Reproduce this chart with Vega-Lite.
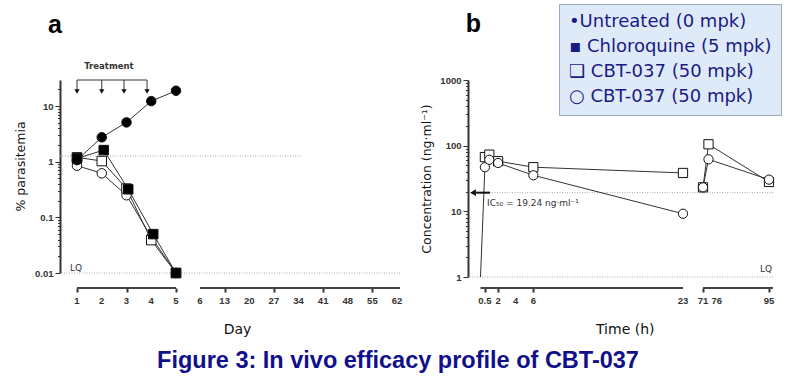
{
  "$schema": "https://vega.github.io/schema/vega-lite/v6.json",
  "background": "white",
  "padding": {"left": 14, "top": 3, "right": 5, "bottom": 5},
  "config": {
    "view": {"stroke": null},
    "axis": {"grid": false, "labelFont": "Liberation Sans", "labelFontWeight": "bold", "labelFontSize": 9.5, "labelColor": "#333", "labelOverlap": false, "titleFont": "DejaVu Sans", "titleFontWeight": "normal", "titleColor": "#111", "tickColor": "#333", "domainColor": "#333"}
  },
  "title": {"text": "Figure 3: In vivo efficacy profile of CBT-037", "orient": "bottom", "anchor": "middle", "font": "Liberation Sans", "fontSize": 23.5, "fontWeight": "bold", "color": "#10108a", "offset": 13},
  "bounds": "flush",
  "spacing": 68,
  "resolve": {"scale": {"shape": "independent", "fill": "independent"}},
  "hconcat": [
    {
      "width": 340,
      "height": 193,
      "layer": [
        {
          "data": {"values": [{}]},
          "mark": {"type": "rule", "color": "#aaa", "strokeDash": [1, 1.5], "strokeWidth": 1},
          "encoding": {"y": {"datum": 0.01, "type": "quantitative", "scale": {"type": "log", "domain": [0.01, 29.5], "nice": false}}}
        },
        {
          "data": {"values": [{}]},
          "mark": {"type": "rule", "color": "#aaa", "strokeDash": [1, 1.5], "strokeWidth": 1},
          "encoding": {
            "x": {"datum": 0.313, "type": "quantitative", "scale": {"type": "linear", "domain": [1, 5, 6, 62], "range": [17, 116, 140, 337], "zero": false, "nice": false}},
            "x2": {"datum": 34.7},
            "y": {"datum": 1.27, "type": "quantitative", "scale": {"type": "log", "domain": [0.01, 29.5], "nice": false}}
          }
        },
        {
          "data": {"values": [{"from": 1, "to": 5}, {"from": 6, "to": 62.85}]},
          "mark": {"type": "rule", "color": "#444", "strokeWidth": 2, "clip": false},
          "encoding": {
            "x": {"field": "from", "type": "quantitative", "scale": {"type": "linear", "domain": [1, 5, 6, 62], "range": [17, 116, 140, 337], "zero": false, "nice": false}},
            "x2": {"field": "to"},
            "y": {"datum": 0.00537, "type": "quantitative", "scale": {"type": "log", "domain": [0.01, 29.5], "nice": false}}
          }
        },
        {
          "data": {"values": [{"tick": 1}, {"tick": 2}, {"tick": 3}, {"tick": 4}, {"tick": 5}, {"tick": 6}, {"tick": 13}, {"tick": 20}, {"tick": 27}, {"tick": 34}, {"tick": 41}, {"tick": 48}, {"tick": 55}, {"tick": 62}]},
          "mark": {"type": "text", "font": "Liberation Sans", "fontWeight": "bold", "fontSize": 9.5, "color": "#333", "baseline": "middle", "align": "center", "clip": false},
          "encoding": {
            "x": {"field": "tick", "type": "quantitative", "scale": {"type": "linear", "domain": [1, 5, 6, 62], "range": [17, 116, 140, 337], "zero": false, "nice": false}},
            "y": {"datum": 0.00314, "type": "quantitative", "scale": {"type": "log", "domain": [0.01, 29.5], "nice": false}},
            "text": {"field": "tick", "type": "quantitative", "format": "d"}
          }
        },
        {
          "data": {"name": "para", "values": [
            {"group": "○ CBT-037 (50 mpk)", "day": 1, "pct": 0.85},
            {"group": "○ CBT-037 (50 mpk)", "day": 2, "pct": 0.62},
            {"group": "○ CBT-037 (50 mpk)", "day": 3, "pct": 0.25},
            {"group": "○ CBT-037 (50 mpk)", "day": 4, "pct": 0.044},
            {"group": "○ CBT-037 (50 mpk)", "day": 5, "pct": 0.01},
            {"group": "❑ CBT-037 (50 mpk)", "day": 1, "pct": 1.2},
            {"group": "❑ CBT-037 (50 mpk)", "day": 2, "pct": 1.03},
            {"group": "❑ CBT-037 (50 mpk)", "day": 3, "pct": 0.33},
            {"group": "❑ CBT-037 (50 mpk)", "day": 4, "pct": 0.039},
            {"group": "❑ CBT-037 (50 mpk)", "day": 5, "pct": 0.01},
            {"group": "▪ Chloroquine (5 mpk)", "day": 1, "pct": 1.15},
            {"group": "▪ Chloroquine (5 mpk)", "day": 2.08, "pct": 1.62},
            {"group": "▪ Chloroquine (5 mpk)", "day": 3.07, "pct": 0.32},
            {"group": "▪ Chloroquine (5 mpk)", "day": 4.08, "pct": 0.05},
            {"group": "▪ Chloroquine (5 mpk)", "day": 5, "pct": 0.01},
            {"group": "•Untreated (0 mpk)", "day": 1, "pct": 1.07},
            {"group": "•Untreated (0 mpk)", "day": 2, "pct": 2.75},
            {"group": "•Untreated (0 mpk)", "day": 3, "pct": 5.1},
            {"group": "•Untreated (0 mpk)", "day": 4, "pct": 12.3},
            {"group": "•Untreated (0 mpk)", "day": 5, "pct": 18.9}
          ]},
          "layer": [
            {
              "mark": {"type": "line", "color": "#333", "strokeWidth": 1},
              "encoding": {
                "x": {"field": "day", "type": "quantitative", "scale": {"type": "linear", "domain": [1, 5, 6, 62], "range": [17, 116, 140, 337], "zero": false, "nice": false},
                  "axis": {"title": "Day", "values": [1, 2, 3, 4, 5, 6, 13, 20, 27, 34, 41, 48, 55, 62], "labels": false, "domain": false, "offset": 15, "tickSize": 4, "tickWidth": 2, "titleFontSize": 14, "titlePadding": 29}},
                "y": {"field": "pct", "type": "quantitative", "scale": {"type": "log", "domain": [0.01, 29.5], "nice": false},
                  "axis": {"title": "% parasitemia", "values": [0.01, 0.02, 0.03, 0.04, 0.05, 0.06, 0.07, 0.08, 0.09, 0.1, 0.2, 0.3, 0.4, 0.5, 0.6, 0.7, 0.8, 0.9, 1, 2, 3, 4, 5, 6, 7, 8, 9, 10, 20],
                    "labelExpr": "abs(log(datum.value)/LN10 - round(log(datum.value)/LN10)) < 0.001 ? '' + datum.value : ''",
                    "labelOverlap": false,
                    "tickSize": {"condition": {"test": "abs(log(datum.value)/LN10 - round(log(datum.value)/LN10)) < 0.001", "value": 5}, "value": 2.5},
                    "domainWidth": 2, "tickWidth": 1, "labelPadding": 2, "titleFontSize": 12.5, "titlePadding": 7, "titleY": 86}},
                "detail": {"field": "group"}
              }
            },
            {
              "mark": {"type": "point", "filled": false, "stroke": "#111", "strokeWidth": 1, "size": 90, "opacity": 1},
              "encoding": {
                "x": {"field": "day", "type": "quantitative", "scale": {"type": "linear", "domain": [1, 5, 6, 62], "range": [17, 116, 140, 337], "zero": false, "nice": false}},
                "y": {"field": "pct", "type": "quantitative", "scale": {"type": "log", "domain": [0.01, 29.5], "nice": false}},
                "shape": {"field": "group", "type": "nominal",
                  "scale": {"domain": ["•Untreated (0 mpk)", "▪ Chloroquine (5 mpk)", "❑ CBT-037 (50 mpk)", "○ CBT-037 (50 mpk)"], "range": ["circle", "square", "square", "circle"]},
                  "legend": {"orient": "none", "legendX": 499, "legendY": -76, "title": null, "fillColor": "#dfeaf8", "strokeColor": "#9aa8c0", "padding": 9,
                    "labelFont": "DejaVu Sans", "labelFontSize": 18, "labelColor": "#1a1a85", "labelLimit": 400, "symbolSize": 0, "symbolOpacity": 0, "symbolStrokeWidth": 0, "labelOffset": -17, "rowPadding": 7,
                    "encode": {"symbols": {"update": {"size": {"value": 0}, "opacity": {"value": 0}}}}}},
                "fill": {"field": "group", "type": "nominal",
                  "scale": {"domain": ["•Untreated (0 mpk)", "▪ Chloroquine (5 mpk)", "❑ CBT-037 (50 mpk)", "○ CBT-037 (50 mpk)"], "range": ["#000", "#000", "#fff", "#fff"]},
                  "legend": null}
              }
            }
          ]
        },
        {
          "data": {"values": [{}]},
          "mark": {"type": "rule", "color": "#333", "strokeWidth": 1, "clip": false},
          "encoding": {
            "x": {"datum": 1, "type": "quantitative", "scale": {"type": "linear", "domain": [1, 5, 6, 62], "range": [17, 116, 140, 337], "zero": false, "nice": false}},
            "x2": {"datum": 3.83},
            "y": {"datum": 29.5, "type": "quantitative", "scale": {"type": "log", "domain": [0.01, 29.5], "nice": false}}
          }
        },
        {
          "data": {"values": [{"dose": 1}, {"dose": 2}, {"dose": 2.9}, {"dose": 3.83}]},
          "layer": [
            {
              "mark": {"type": "rule", "color": "#333", "strokeWidth": 1, "clip": false},
              "encoding": {
                "x": {"field": "dose", "type": "quantitative", "scale": {"type": "linear", "domain": [1, 5, 6, 62], "range": [17, 116, 140, 337], "zero": false, "nice": false}},
                "y": {"datum": 29.5, "type": "quantitative", "scale": {"type": "log", "domain": [0.01, 29.5], "nice": false}},
                "y2": {"datum": 19.5}
              }
            },
            {
              "mark": {"type": "point", "shape": "triangle-down", "filled": true, "color": "#111", "size": 28, "opacity": 1, "clip": false},
              "encoding": {
                "x": {"field": "dose", "type": "quantitative", "scale": {"type": "linear", "domain": [1, 5, 6, 62], "range": [17, 116, 140, 337], "zero": false, "nice": false}},
                "y": {"datum": 18.3, "type": "quantitative", "scale": {"type": "log", "domain": [0.01, 29.5], "nice": false}}
              }
            }
          ]
        },
        {
          "data": {"values": [{}]},
          "mark": {"type": "text", "text": "Treatment", "font": "DejaVu Sans", "fontWeight": "bold", "fontSize": 8.5, "color": "#333", "baseline": "middle", "align": "center", "clip": false},
          "encoding": {
            "x": {"datum": 2.29, "type": "quantitative", "scale": {"type": "linear", "domain": [1, 5, 6, 62], "range": [17, 116, 140, 337], "zero": false, "nice": false}},
            "y": {"datum": 52.6, "type": "quantitative", "scale": {"type": "log", "domain": [0.01, 29.5], "nice": false}}
          }
        },
        {
          "data": {"values": [{}]},
          "mark": {"type": "text", "text": "LQ", "font": "DejaVu Sans", "fontSize": 9, "color": "#333", "baseline": "middle", "align": "left", "clip": false},
          "encoding": {
            "x": {"datum": 0.72, "type": "quantitative", "scale": {"type": "linear", "domain": [1, 5, 6, 62], "range": [17, 116, 140, 337], "zero": false, "nice": false}},
            "y": {"datum": 0.0123, "type": "quantitative", "scale": {"type": "log", "domain": [0.01, 29.5], "nice": false}}
          }
        },
        {
          "data": {"values": [{}]},
          "mark": {"type": "text", "text": "a", "font": "Liberation Sans", "fontWeight": "bold", "fontSize": 25, "color": "#000", "baseline": "middle", "align": "center", "clip": false},
          "encoding": {
            "x": {"datum": 0.11, "type": "quantitative", "scale": {"type": "linear", "domain": [1, 5, 6, 62], "range": [17, 116, 140, 337], "zero": false, "nice": false}},
            "y": {"datum": 288, "type": "quantitative", "scale": {"type": "log", "domain": [0.01, 29.5], "nice": false}}
          }
        }
      ]
    },
    {
      "width": 305,
      "height": 197,
      "layer": [
        {
          "data": {"values": [{"level": 1}, {"level": 19.24}]},
          "mark": {"type": "rule", "color": "#aaa", "strokeDash": [1, 1.5], "strokeWidth": 1},
          "encoding": {"y": {"field": "level", "type": "quantitative", "scale": {"type": "log", "domain": [1, 1000], "nice": false}}}
        },
        {
          "data": {"values": [{"from": 0, "to": 23}, {"from": 71, "to": 96.45}]},
          "mark": {"type": "rule", "color": "#444", "strokeWidth": 2, "clip": false},
          "encoding": {
            "x": {"field": "from", "type": "quantitative", "scale": {"type": "linear", "domain": [0, 23, 71, 95], "range": [12.5, 215, 235, 301], "zero": false, "nice": false}},
            "x2": {"field": "to"},
            "y": {"datum": 0.68, "type": "quantitative", "scale": {"type": "log", "domain": [1, 1000], "nice": false}}
          }
        },
        {
          "data": {"values": [{"tick": 0.5, "label": "0.5"}, {"tick": 2, "label": "2"}, {"tick": 4, "label": "4"}, {"tick": 6, "label": "6"}, {"tick": 23, "label": "23"}, {"tick": 71, "label": "71"}, {"tick": 76, "label": "76"}, {"tick": 95, "label": "95"}]},
          "mark": {"type": "text", "font": "Liberation Sans", "fontWeight": "bold", "fontSize": 9.5, "color": "#333", "baseline": "middle", "align": "center", "clip": false},
          "encoding": {
            "x": {"field": "tick", "type": "quantitative", "scale": {"type": "linear", "domain": [0, 23, 71, 95], "range": [12.5, 215, 235, 301], "zero": false, "nice": false}},
            "y": {"datum": 0.431, "type": "quantitative", "scale": {"type": "log", "domain": [1, 1000], "nice": false}},
            "text": {"field": "label", "type": "nominal"}
          }
        },
        {
          "data": {"values": [
            {"series": "square", "seg": 1, "t": 0.5, "conc": 67},
            {"series": "square", "seg": 1, "t": 1, "conc": 73},
            {"series": "square", "seg": 1, "t": 2, "conc": 58},
            {"series": "square", "seg": 1, "t": 6, "conc": 47},
            {"series": "square", "seg": 1, "t": 23, "conc": 38.4},
            {"series": "square", "seg": 2, "t": 71, "conc": 23.2},
            {"series": "square", "seg": 2, "t": 73, "conc": 105},
            {"series": "square", "seg": 2, "t": 95, "conc": 28},
            {"series": "circle", "seg": 1, "t": 0, "conc": 1},
            {"series": "circle", "seg": 1, "t": 0.5, "conc": 47},
            {"series": "circle", "seg": 1, "t": 1, "conc": 61},
            {"series": "circle", "seg": 1, "t": 2, "conc": 54.5},
            {"series": "circle", "seg": 1, "t": 6, "conc": 35.4},
            {"series": "circle", "seg": 1, "t": 23, "conc": 9.2},
            {"series": "circle", "seg": 2, "t": 71, "conc": 23.2},
            {"series": "circle", "seg": 2, "t": 73, "conc": 62},
            {"series": "circle", "seg": 2, "t": 95, "conc": 30.4}
          ]},
          "layer": [
            {
              "mark": {"type": "line", "color": "#333", "strokeWidth": 1},
              "encoding": {
                "x": {"field": "t", "type": "quantitative", "scale": {"type": "linear", "domain": [0, 23, 71, 95], "range": [12.5, 215, 235, 301], "zero": false, "nice": false},
                  "axis": {"title": "Time (h)", "values": [0.5, 1, 2, 4, 6, 23, 71, 76, 95], "labels": false, "domain": false, "offset": 11, "tickSize": 4, "tickWidth": 2, "titleFontSize": 14, "titlePadding": 29}},
                "y": {"field": "conc", "type": "quantitative", "scale": {"type": "log", "domain": [1, 1000], "nice": false},
                  "axis": {"title": "Concentration (ng·ml⁻¹)", "values": [1, 2, 3, 4, 5, 6, 7, 8, 9, 10, 20, 30, 40, 50, 60, 70, 80, 90, 100, 200, 300, 400, 500, 600, 700, 800, 900, 1000],
                    "labelExpr": "abs(log(datum.value)/LN10 - round(log(datum.value)/LN10)) < 0.001 ? '' + datum.value : ''",
                    "labelOverlap": false,
                    "tickSize": {"condition": {"test": "abs(log(datum.value)/LN10 - round(log(datum.value)/LN10)) < 0.001", "value": 5}, "value": 2.5},
                    "domainWidth": 2, "tickWidth": 1, "labelPadding": 2, "titleFontSize": 12.5, "titlePadding": 6}},
                "detail": [{"field": "series"}, {"field": "seg"}]
              }
            },
            {
              "transform": [{"filter": "datum.t > 0"}],
              "mark": {"type": "point", "filled": true, "fill": "#fff", "stroke": "#111", "strokeWidth": 1, "size": 85, "opacity": 1},
              "encoding": {
                "x": {"field": "t", "type": "quantitative", "scale": {"type": "linear", "domain": [0, 23, 71, 95], "range": [12.5, 215, 235, 301], "zero": false, "nice": false}},
                "y": {"field": "conc", "type": "quantitative", "scale": {"type": "log", "domain": [1, 1000], "nice": false}},
                "shape": {"field": "series", "type": "nominal", "scale": {"domain": ["square", "circle"], "range": ["square", "circle"]}, "legend": null}
              }
            }
          ]
        },
        {
          "data": {"values": [{}]},
          "mark": {"type": "rule", "color": "#111", "strokeWidth": 2, "clip": false},
          "encoding": {
            "x": {"datum": -0.5, "type": "quantitative", "scale": {"type": "linear", "domain": [0, 23, 71, 95], "range": [12.5, 215, 235, 301], "zero": false, "nice": false}},
            "x2": {"datum": 1.08},
            "y": {"datum": 19.24, "type": "quantitative", "scale": {"type": "log", "domain": [1, 1000], "nice": false}}
          }
        },
        {
          "data": {"values": [{}]},
          "mark": {"type": "point", "shape": "triangle-left", "filled": true, "color": "#111", "size": 45, "opacity": 1, "clip": false},
          "encoding": {
            "x": {"datum": -0.85, "type": "quantitative", "scale": {"type": "linear", "domain": [0, 23, 71, 95], "range": [12.5, 215, 235, 301], "zero": false, "nice": false}},
            "y": {"datum": 19.24, "type": "quantitative", "scale": {"type": "log", "domain": [1, 1000], "nice": false}}
          }
        },
        {
          "data": {"values": [{}]},
          "mark": {"type": "text", "text": "IC₅₀ = 19.24 ng·ml⁻¹", "font": "DejaVu Sans", "fontSize": 9, "color": "#333", "baseline": "middle", "align": "left", "clip": false},
          "encoding": {
            "x": {"datum": 0.74, "type": "quantitative", "scale": {"type": "linear", "domain": [0, 23, 71, 95], "range": [12.5, 215, 235, 301], "zero": false, "nice": false}},
            "y": {"datum": 13.3, "type": "quantitative", "scale": {"type": "log", "domain": [1, 1000], "nice": false}}
          }
        },
        {
          "data": {"values": [{}]},
          "mark": {"type": "text", "text": "LQ", "font": "DejaVu Sans", "fontSize": 9, "color": "#333", "baseline": "middle", "align": "right", "clip": false},
          "encoding": {
            "x": {"datum": 96.1, "type": "quantitative", "scale": {"type": "linear", "domain": [0, 23, 71, 95], "range": [12.5, 215, 235, 301], "zero": false, "nice": false}},
            "y": {"datum": 1.31, "type": "quantitative", "scale": {"type": "log", "domain": [1, 1000], "nice": false}}
          }
        },
        {
          "data": {"values": [{}]},
          "mark": {"type": "text", "text": "b", "font": "Liberation Sans", "fontWeight": "bold", "fontSize": 25, "color": "#000", "baseline": "middle", "align": "center", "clip": false},
          "encoding": {
            "x": {"datum": -0.8, "type": "quantitative", "scale": {"type": "linear", "domain": [0, 23, 71, 95], "range": [12.5, 215, 235, 301], "zero": false, "nice": false}},
            "y": {"datum": 7120, "type": "quantitative", "scale": {"type": "log", "domain": [1, 1000], "nice": false}}
          }
        }
      ]
    }
  ]
}
